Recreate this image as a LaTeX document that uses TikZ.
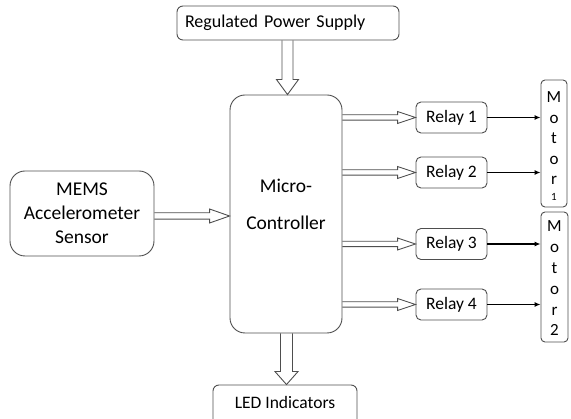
\documentclass[tikz,border=0pt]{standalone}
\usepackage{fontspec}
\setmainfont{Carlito}
\usetikzlibrary{calc,arrows.meta}
\definecolor{lncol}{HTML}{4E4E4E}
\definecolor{ink}{HTML}{000000}
\tikzset{
  rbox/.style={draw=lncol, line width=0.9pt, inner sep=0pt, text=ink},
  lbl/.style={text=ink, inner sep=0pt},
  blk/.style={draw=lncol, line width=0.9pt},
  relayline/.style={draw=ink, line width=1.1pt, -{Latex[length=6pt,width=5pt]}},
  relaybox/.style={rbox, rounded corners=5pt, minimum width=71pt, minimum height=31pt, font=\fontsize{17.5}{21}\selectfont},
  motorletter/.style={lbl, anchor=base, font=\fontsize{17}{20}\selectfont},
}
\newcommand{\hollowH}[5]{\draw[blk] let \p1=#1, \p2=#2 in
  (\x1,\y1+#3pt) -- (\x2-#5pt,\y1+#3pt) -- (\x2-#5pt,\y1+#4pt) -- (\x2,\y1)
  -- (\x2-#5pt,\y1-#4pt) -- (\x2-#5pt,\y1-#3pt) -- (\x1,\y1-#3pt);}
\newcommand{\hollowV}[5]{\draw[blk] let \p1=#1, \p2=#2 in
  (\x1-#3pt,\y1) -- (\x1-#3pt,\y2+#5pt) -- (\x1-#4pt,\y2+#5pt) -- (\x1,\y2)
  -- (\x1+#4pt,\y2+#5pt) -- (\x1+#3pt,\y2+#5pt) -- (\x1+#3pt,\y1);}
\begin{document}
\begin{tikzpicture}[x=1pt,y=-1pt]
\clip (0,0) rectangle (571,419);
% boxes
\node[rbox, rounded corners=6pt, minimum width=222pt, minimum height=34pt,
      text width=206pt, align=left, inner xsep=8pt,
      font=\fontsize{18}{22}\selectfont] (rps) at (288,23) {Regulated Power Supply};
\node[rbox, rounded corners=15pt, minimum width=112pt, minimum height=238pt] (mcu) at (286,214) {};
\node[lbl, font=\fontsize{19.5}{24}\selectfont] (mcut1) at (286,186) {Micro-};
\node[lbl, font=\fontsize{19.5}{24}\selectfont] (mcut2) at (286,223) {Controller};
\node[rbox, rounded corners=15pt, minimum width=144pt, minimum height=85pt, align=center,
      font=\fontsize{19.5}{24}\selectfont] (mems) at (82,213.5) {MEMS\\Accelerometer\\Sensor};
\foreach \i/\yy in {1/117.5,2/172.5,3/244,4/304.5}
  \node[relaybox] (r\i) at (451.5,\yy) {Relay \i};
\node[rbox, rounded corners=4pt, minimum width=26pt, minimum height=127pt] (m1) at (554,143.5) {};
\node[rbox, rounded corners=4pt, minimum width=27pt, minimum height=130pt] (m2) at (554.5,277) {};
\foreach \c [count=\k] in {M,o,t,o,r}
  \node[motorletter] (m1l\k) at (554,{103+20.4*(\k-1)}) {\c};
\node[lbl, anchor=base, font=\fontsize{11}{13}\selectfont] (m1l6) at (554,201) {1};
\foreach \c [count=\k] in {M,o,t,o,r,2}
  \node[motorletter] (m2l\k) at (554.5,{232+20.8*(\k-1)}) {\c};
\node[rbox, rounded corners=6pt, minimum width=144pt, minimum height=45pt] (led) at (285,407.5) {};
\node[lbl, font=\fontsize{17.5}{21}\selectfont] (ledt) at (285,402) {LED Indicators};
% helper coordinates
\coordinate (pwrx) at (287.5,0);
\coordinate (ledx) at (286.5,0);
\coordinate (memsy) at (0,216);
% block arrows
\hollowV{(pwrx |- rps.south)}{(pwrx |- mcu.north)}{5.5}{11}{15}
\hollowV{(ledx |- mcu.south)}{(ledx |- led.north)}{6}{11.5}{13}
\hollowH{(mems.east |- memsy)}{(mcu.west |- memsy)}{3.2}{7}{20}
\hollowH{(mcu.east |- r1.west)}{(r1.west)}{2.7}{6}{18}
\hollowH{(mcu.east |- r2.west)}{(r2.west)}{2.7}{6}{18}
\hollowH{(mcu.east |- r3.west)}{(r3.west)}{2.7}{6}{18}
\hollowH{(mcu.east |- r4.west)}{(r4.west)}{2.7}{6}{18}
% relay to motor
\draw[relayline] (r1.east) -- (m1.west |- r1.east);
\draw[relayline] (r2.east) -- (m1.west |- r2.east);
\draw[relayline] (r3.east) -- (m2.west |- r3.east);
\draw[relayline] (r4.east) -- (m2.west |- r4.east);
\end{tikzpicture}
\end{document}
